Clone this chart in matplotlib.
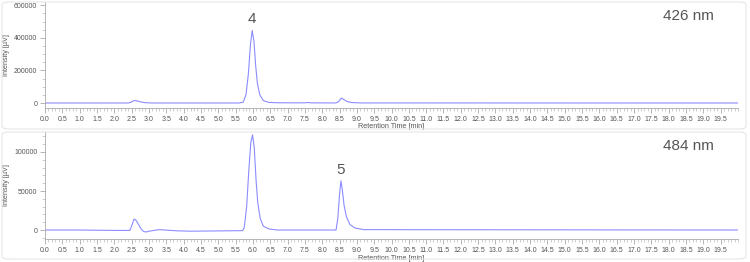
import numpy as np
import matplotlib.pyplot as plt
from matplotlib.ticker import MultipleLocator, FixedLocator
from matplotlib.patches import FancyBboxPatch

plt.rcParams['font.family'] = ['Liberation Sans', 'DejaVu Sans']

# chromatogram at 426 nm (retention time [min], intensity [uV])
t_426 = [0.0, 2.4, 2.48, 2.55, 2.6, 2.7, 2.8, 2.9, 3.1, 5.6, 5.72, 5.8, 5.87,
         5.93, 5.98, 6.03, 6.08, 6.13, 6.2, 6.3, 6.45, 6.7, 7.5, 7.58, 7.66,
         8.4, 8.47, 8.55, 8.62, 8.72, 8.85, 9.1, 20.0]
i_426 = [0, 0, 4000, 14000, 15000, 10000, 5000, 2000, 0, 0, 5000, 50000, 180000,
         360000, 445000, 380000, 230000, 120000, 50000, 15000, 4000, 1500, 1000, 3500, 1000,
         500, 8000, 30000, 22000, 9000, 3000, 500, 0]

# chromatogram at 484 nm
t_484 = [0.0, 1.0, 2.0, 2.45, 2.5, 2.57, 2.62, 2.7, 2.78, 2.85, 2.92, 3.0, 3.3,
         3.8, 4.2, 5.7, 5.75, 5.82, 5.88, 5.94, 5.99, 6.04, 6.09, 6.14, 6.21,
         6.3, 6.45, 6.7, 7.5, 8.4, 8.45, 8.5, 8.54, 8.58, 8.63, 8.7, 8.8, 8.95,
         9.2, 20.0]
i_484 = [0, 0, -500, -500, 5000, 14000, 13000, 7000, 1000, -2000, -2500, -1500, 500,
         -1000, -1500, -800, 3000, 30000, 75000, 112000, 122000, 105000, 65000, 35000, 15000,
         5000, 1500, 0, 0, 0, 15000, 45000, 63000, 52000, 32000, 17000, 7000, 2500,
         500, 0]

panels = [
    dict(t=t_426, y=i_426, ylim=(-30600, 620000), major=200000, minor=50000,
         wl="426 nm", peak="4", peak_x=5.98, peak_y=445000),
    dict(t=t_484, y=i_484, ylim=(-11500, 125600), major=50000, minor=10000,
         wl="484 nm", peak="5", peak_x=8.54, peak_y=63000),
]

gray = '#555555'
fig = plt.figure(figsize=(7.5, 2.62), dpi=100)

# light frames around each panel
for y0, h in [(2, 127), (132, 127)]:
    fig.patches.append(FancyBboxPatch((2 / 750, 1 - (y0 + h) / 262), 744 / 750, h / 262,
                                      boxstyle='round,pad=0,rounding_size=0.01',
                                      transform=fig.transFigure, fill=False,
                                      ec='#e6e6e6', lw=0.8))

rects = [[45 / 750, 1 - 108 / 262, 693 / 750, 106 / 262],
         [45 / 750, 1 - 239 / 262, 693 / 750, 107 / 262]]

ticks = np.arange(0, 20, 0.5)
for rect, p in zip(rects, panels):
    ax = fig.add_axes(rect)
    ax.plot(p['t'], p['y'], color='#8c8cff', lw=0.8)
    ax.set_xlim(0, 20)
    ax.set_ylim(*p['ylim'])
    for s in ['top', 'right']:
        ax.spines[s].set_visible(False)
    for s in ['left', 'bottom']:
        ax.spines[s].set_color('#aaaaaa')
        ax.spines[s].set_linewidth(0.6)
    ax.xaxis.set_major_locator(FixedLocator(ticks))
    ax.xaxis.set_minor_locator(MultipleLocator(0.1))
    ax.yaxis.set_major_locator(MultipleLocator(p['major']))
    ax.yaxis.set_minor_locator(MultipleLocator(p['minor']))
    ax.set_xticklabels([f"{v:.1f}" for v in ticks])
    ax.tick_params(which='major', length=3.5, width=0.5, color='#999999',
                   labelsize=5, labelcolor=gray, pad=2)
    ax.tick_params(which='minor', length=2, width=0.4, color='#aaaaaa')
    ax.set_xlabel('Retention Time [min]', fontsize=5.2, color=gray)
    ax.xaxis.set_label_coords(0.5, -0.145)
    ax.set_ylabel('Intensity [µV]', fontsize=5.2, color=gray)
    ax.yaxis.set_label_coords(-0.05, 0.5)
    ax.text(0.965, 0.93, p['wl'], transform=ax.transAxes, ha='right', va='top',
            fontsize=11, color=gray)
    ax.annotate(p['peak'], (p['peak_x'], p['peak_y']), xytext=(0, 3),
                textcoords='offset points', ha='center', va='bottom',
                fontsize=11, color=gray)

fig.savefig('out.png', dpi=100)
